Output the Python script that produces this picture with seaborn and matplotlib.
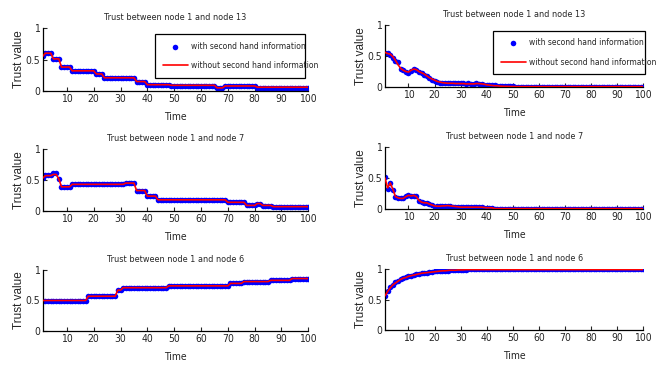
import numpy as np
import pandas as pd
import seaborn as sns
import matplotlib as mpl
import matplotlib.pyplot as plt

sns.set_style("white")
mpl.rcParams['font.family'] = ['DejaVu Sans']
mpl.rcParams['font.stretch'] = 'condensed'

#%% data
time = np.arange(1, 101)

# left column: step-like series, written as (level, run length)
l13_red_lv = [0.55, 0.60, 0.51, 0.38, 0.32, 0.27, 0.21, 0.15, 0.10, 0.09, 0.05, 0.08, 0.06]
l13_blue_lv = [0.55, 0.61, 0.51, 0.38, 0.32, 0.27, 0.21, 0.15, 0.10, 0.08, 0.05, 0.075, 0.055]
l13_runs = [1, 3, 3, 4, 9, 3, 12, 4, 9, 17, 3, 12, 20]

l7_red_lv = [0.53, 0.57, 0.59, 0.52, 0.39, 0.43, 0.45, 0.33, 0.24, 0.18, 0.14, 0.09, 0.12, 0.09, 0.07]
l7_blue_lv = [0.53, 0.58, 0.62, 0.52, 0.39, 0.43, 0.45, 0.33, 0.24, 0.18, 0.14, 0.09, 0.12, 0.085, 0.065]
l7_runs = [1, 3, 2, 1, 4, 20, 4, 4, 4, 26, 7, 4, 2, 4, 14]

l6_red_lv = [0.50, 0.57, 0.67, 0.71, 0.74, 0.78, 0.81, 0.83, 0.86]
l6_blue_lv = [0.50, 0.57, 0.67, 0.71, 0.74, 0.78, 0.81, 0.83, 0.86]
l6_runs = [17, 11, 2, 17, 23, 5, 10, 8, 7]

# right column: smooth series, point by point (long flat tails repeated)
r13_red = [0.56, 0.54, 0.53, 0.49, 0.43, 0.36, 0.30, 0.27, 0.25, 0.24,
           0.27, 0.29, 0.28, 0.25, 0.23, 0.21, 0.18, 0.15, 0.13, 0.11,
           0.09, 0.08, 0.07, 0.065, 0.06, 0.06, 0.06, 0.055, 0.055, 0.055,
           0.055, 0.05, 0.05, 0.05, 0.05, 0.055, 0.055, 0.05, 0.045, 0.035,
           0.03, 0.025, 0.02, 0.02, 0.015, 0.012, 0.01, 0.01, 0.008, 0.008] + [0.006] * 50
r13_blue = [0.55, 0.55, 0.52, 0.47, 0.42, 0.40, 0.29, 0.28, 0.24, 0.23,
            0.26, 0.29, 0.27, 0.24, 0.22, 0.20, 0.17, 0.14, 0.12, 0.10,
            0.08, 0.07, 0.065, 0.06, 0.065, 0.06, 0.065, 0.06, 0.06, 0.06,
            0.06, 0.055, 0.06, 0.055, 0.05, 0.06, 0.05, 0.05, 0.04, 0.035,
            0.03, 0.03, 0.025, 0.02, 0.02, 0.015, 0.015, 0.01, 0.01, 0.01] + [0.008] * 50

r7_red = [0.50, 0.34, 0.42, 0.32, 0.20, 0.18, 0.17, 0.17, 0.20, 0.22,
          0.21, 0.22, 0.20, 0.14, 0.11, 0.10, 0.10, 0.08, 0.065, 0.05,
          0.045, 0.045, 0.05, 0.05, 0.055, 0.05, 0.045, 0.04, 0.035, 0.03,
          0.03, 0.03, 0.03, 0.03, 0.03, 0.03, 0.03, 0.03, 0.025, 0.02,
          0.02, 0.02] + [0.006] * 58
r7_blue = [0.51, 0.33, 0.42, 0.30, 0.19, 0.17, 0.17, 0.18, 0.21, 0.22,
           0.21, 0.21, 0.21, 0.13, 0.11, 0.10, 0.10, 0.08, 0.06, 0.04,
           0.045, 0.05, 0.05, 0.055, 0.05, 0.05, 0.04, 0.04, 0.03, 0.03,
           0.03, 0.025, 0.03, 0.03, 0.03, 0.025, 0.03, 0.03, 0.02, 0.02,
           0.02, 0.015] + [0.008] * 58

r6_red = [0.56, 0.63, 0.69, 0.74, 0.77, 0.80, 0.83, 0.85, 0.86, 0.88,
          0.89, 0.90, 0.91, 0.92, 0.93, 0.935, 0.94, 0.945, 0.95, 0.955,
          0.96, 0.965, 0.97, 0.97, 0.975, 0.98, 0.98, 0.98, 0.985, 0.985,
          0.985, 0.99] + [0.99] * 68
r6_blue = [0.55, 0.64, 0.70, 0.74, 0.78, 0.81, 0.83, 0.85, 0.87, 0.88,
           0.89, 0.90, 0.91, 0.92, 0.93, 0.94, 0.94, 0.95, 0.95, 0.96,
           0.96, 0.965, 0.97, 0.975, 0.975, 0.98, 0.98, 0.985, 0.985, 0.99,
           0.99, 0.99] + [0.995] * 68

titles = ["Trust between node 1 and node 13", "Trust between node 1 and node 7",
          "Trust between node 1 and node 6"]
lab_with = "with second hand information"
lab_without = "without second hand information"

series = [
    (np.repeat(l13_blue_lv, l13_runs), np.repeat(l13_red_lv, l13_runs)),
    (r13_blue, r13_red),
    (np.repeat(l7_blue_lv, l7_runs), np.repeat(l7_red_lv, l7_runs)),
    (r7_blue, r7_red),
    (np.repeat(l6_blue_lv, l6_runs), np.repeat(l6_red_lv, l6_runs)),
    (r6_blue, r6_red),
]

#%% layout, in pixels of the 671x366 picture
W, H = 671, 366
cols = [(42.7, 308.3), (385, 643.3)]
rows = [[(28, 91), (25, 87)], [(149, 211), (147, 209)], [(270, 331), (269, 330)]]
legend_box = [(0.423, 0.206, 0.565, 0.699), (0.418, 0.226, 0.589, 0.661)]

fig = plt.figure(figsize=(W / 100, H / 100), dpi=100)

for i, (blue, red) in enumerate(series):
    r, c = divmod(i, 2)
    x0, x1 = cols[c]
    top, bot = rows[r][c]
    ax = fig.add_axes([x0 / W, 1 - bot / H, (x1 - x0) / W, (bot - top) / H])

    df = pd.DataFrame({"Time": time, "with": blue, "without": red})
    sns.scatterplot(data=df, x="Time", y="with", ax=ax, color="blue", marker="o",
                    s=16, linewidth=0, label=lab_with if r == 0 else None, zorder=2)
    sns.lineplot(data=df, x="Time", y="without", ax=ax, color="red", linewidth=1.2,
                 label=lab_without if r == 0 else None, zorder=3)

    ax.set_xlim(1, 100)
    ax.set_ylim(0, 1)
    ax.set_xticks(range(10, 101, 10))
    ax.set_yticks([0, 0.5, 1])
    ax.set_yticklabels(["0", "0.5", "1"])
    ax.tick_params(direction="in", length=3, width=0.8, labelsize=7.5, pad=2,
                   left=True, bottom=True)
    for s in ["top", "right"]:
        ax.spines[s].set_visible(False)
    for s in ["left", "bottom"]:
        ax.spines[s].set_color("black")
        ax.spines[s].set_linewidth(0.9)
    ax.set_title(titles[r], fontsize=6.5, pad=6)
    ax.set_xlabel("Time", fontsize=7.5, labelpad=6)
    ax.set_ylabel("Trust value", fontsize=8.5, labelpad=0.5,
                  family=["Liberation Sans", "DejaVu Sans"], stretch="normal")

    if r == 0:
        leg = ax.legend(loc="center", bbox_to_anchor=legend_box[c], mode="expand",
                        fontsize=6.1, frameon=True, fancybox=False, framealpha=1,
                        edgecolor="black", borderpad=0.9, labelspacing=1.2,
                        handlelength=3.0, handletextpad=0.3, markerscale=1.0,
                        borderaxespad=0)
        leg.get_frame().set_linewidth(0.9)
    elif ax.get_legend() is not None:
        ax.get_legend().remove()

plt.savefig("out.png", dpi=100)
